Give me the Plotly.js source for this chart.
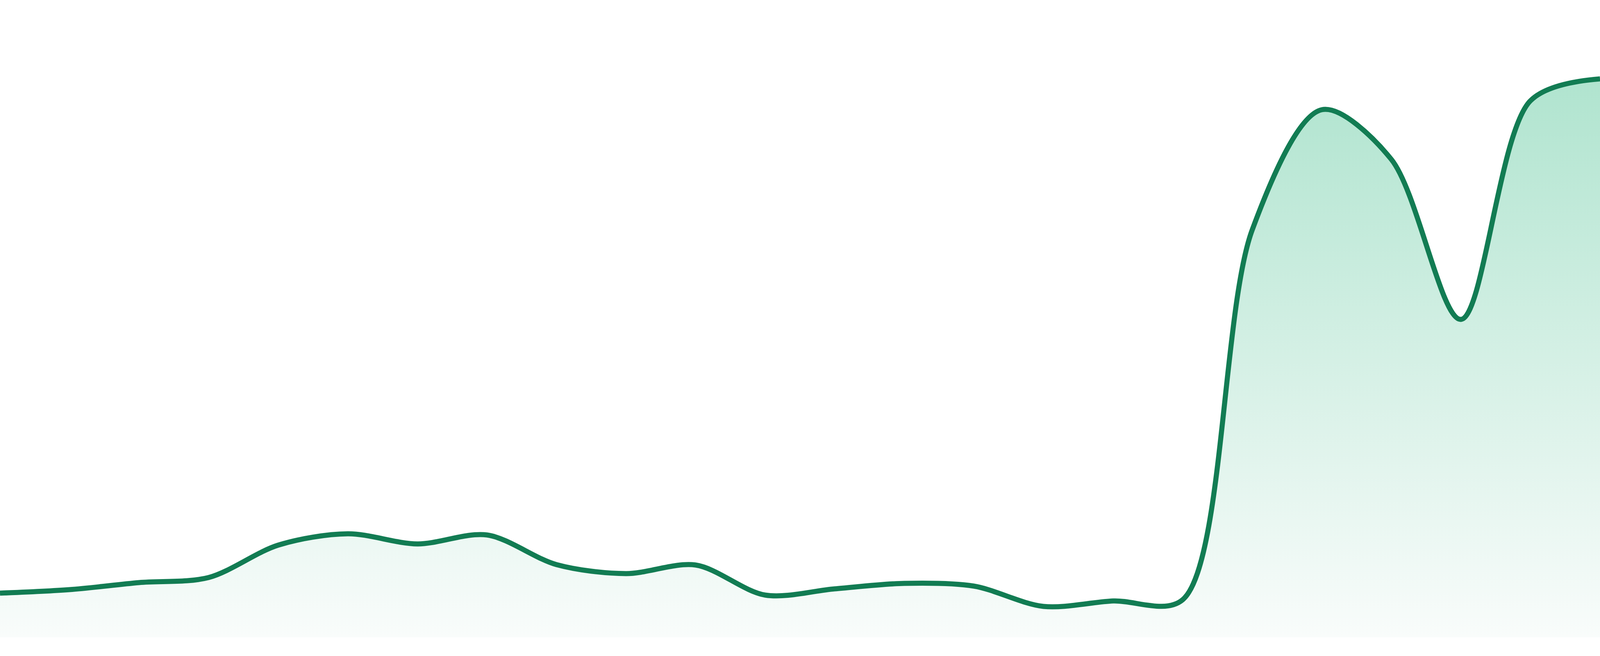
<!DOCTYPE html>
<html>
<head>
<meta charset="utf-8">
<script src="https://cdn.plot.ly/plotly-3.0.1.min.js"></script>
<style>
  html, body { margin: 0; padding: 0; background: #ffffff; overflow: hidden; }
  #chart { width: 100vw; height: 100vh; }
</style>
</head>
<body>
<div id="chart"></div>
<script>
(function () {
  "use strict";

  // 24 evenly spaced samples
  var steps = [0, 1, 2, 3, 4, 5, 6, 7, 8, 9, 10, 11, 12, 13, 14, 15, 16, 17, 18, 19, 20, 21, 22, 23];
  var values = [11.3, 12.2, 14.0, 15.3, 23.6, 26.5, 23.9, 26.2, 18.6, 16.3, 18.5, 10.8,
                12.4, 13.8, 13.1, 7.9, 9.3, 9.6, 104.3, 135.1, 122.4, 81.4, 137.4, 143.0];

  var lineColor = "#127c53";

  // fill the real viewport, whatever its size
  var w = window.innerWidth;
  var h = window.innerHeight;

  Plotly.newPlot("chart", [{
    type: "scatter",
    mode: "lines",
    x: steps,
    y: values,
    line: { color: lineColor, width: 13, shape: "spline", smoothing: 0.9 },
    fill: "tozeroy",
    fillgradient: {
      type: "vertical",
      colorscale: [[0, "rgb(249,252,251)"], [1, "rgb(176,228,207)"]]
    },
    hoverinfo: "skip"
  }], {
    width: w,
    height: h,
    margin: { t: 0, r: 0, b: Math.round(h * 48 / 1680), l: 0, pad: 0 },
    paper_bgcolor: "#ffffff",
    plot_bgcolor: "#ffffff",
    showlegend: false,
    xaxis: { range: [0, 23], visible: false, fixedrange: true },
    yaxis: { range: [0, 163.2], visible: false, fixedrange: true }
  }, { displayModeBar: false, staticPlot: true });
}());
</script>
</body>
</html>
